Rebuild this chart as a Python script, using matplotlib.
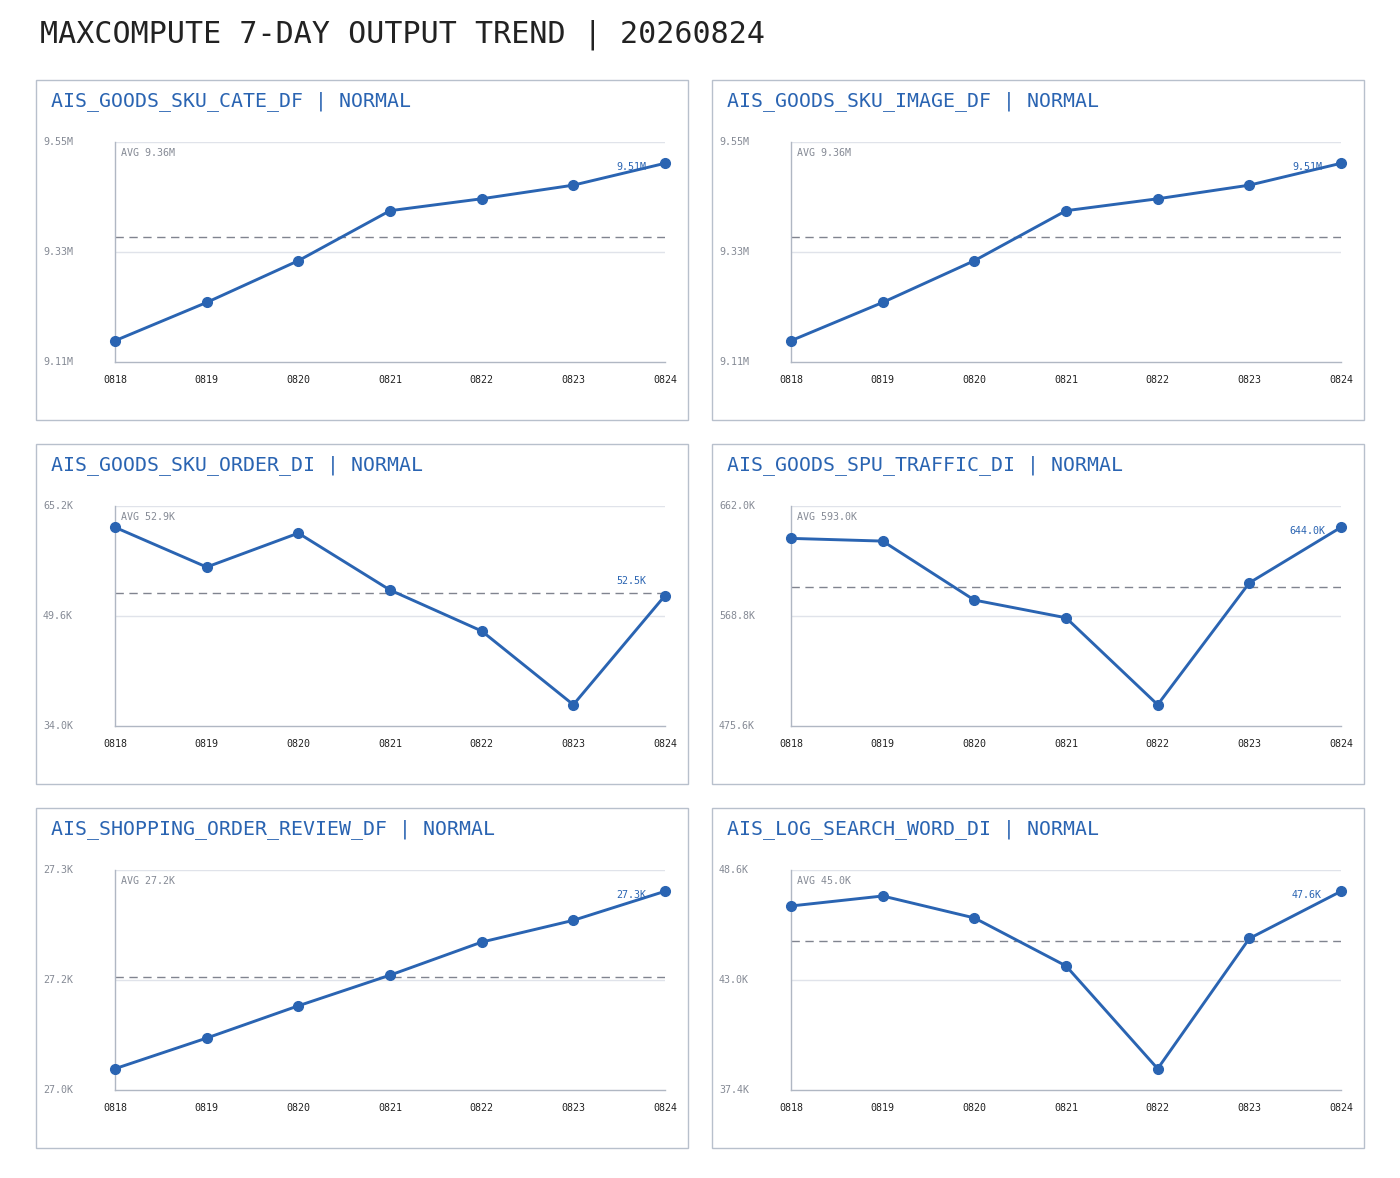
import matplotlib.pyplot as plt
from matplotlib.patches import Rectangle

# data
dates = ['0818', '0819', '0820', '0821', '0822', '0823', '0824']
table_names = ['AIS_GOODS_SKU_CATE_DF', 'AIS_GOODS_SKU_IMAGE_DF',
               'AIS_GOODS_SKU_ORDER_DI', 'AIS_GOODS_SPU_TRAFFIC_DI',
               'AIS_SHOPPING_ORDER_REVIEW_DF', 'AIS_LOG_SEARCH_WORD_DI']
statuses = ['NORMAL'] * 6

sku_cate = [9151000, 9228000, 9312000, 9412600, 9436600, 9464000, 9508000]
sku_image = [9151000, 9228000, 9312000, 9412600, 9436600, 9464000, 9508000]
sku_order = [62200, 56550, 61370, 53290, 47470, 37000, 52500]
spu_traffic = [634600, 632300, 582300, 567300, 493600, 596900, 644000]
order_review = [27060, 27098, 27138, 27176, 27217, 27244, 27280]
search_word = [46810, 47320, 46200, 43750, 38500, 45150, 47560]

series = [sku_cate, sku_image, sku_order, spu_traffic, order_review, search_word]

title = 'MAXCOMPUTE 7-DAY OUTPUT TREND | 20260824'

BLUE = '#2a64b2'
GRAY = '#858a95'
FONT = 'DejaVu Sans Mono'

W, H = 1400, 1178


def fmt(v):
    if abs(v) >= 1e6:
        return f'{v / 1e6:.2f}M'
    if abs(v) >= 1e3:
        return f'{v / 1e3:.1f}K'
    return f'{v:.0f}'


fig = plt.figure(figsize=(W / 100, H / 100), dpi=100)
fig.text(40 / W, 1 - 35 / H, title, fontsize=21.6, family=FONT, color='#222222',
         ha='left', va='center')

box_lefts = [36, 712]
box_tops = [80, 444, 808]

for i, vals in enumerate(series):
    bx = box_lefts[i % 2]
    by = box_tops[i // 2]
    # panel frame
    fig.patches.append(Rectangle((bx / W, 1 - (by + 340) / H), 652 / W, 340 / H,
                                 transform=fig.transFigure, fill=False,
                                 edgecolor='#b8c0cc', linewidth=1))
    fig.text((bx + 15) / W, 1 - (by + 21) / H, f'{table_names[i]} | {statuses[i]}',
             fontsize=14.3, family=FONT, color=BLUE, ha='left', va='center')

    ax = fig.add_axes([(bx + 79) / W, 1 - (by + 282) / H, 550 / W, 220 / H])
    x = list(range(len(dates)))
    vmin, vmax = min(vals), max(vals)
    pad = (vmax - vmin) * 0.12
    lo, hi = vmin - pad, vmax + pad
    mid = (lo + hi) / 2
    avg = sum(vals) / len(vals)

    ax.set_xlim(x[0], x[-1])
    ax.set_ylim(lo, hi)
    for yv in (mid, hi):
        ax.axhline(yv, color='#e0e3ea', linewidth=1, zorder=0)
    ax.axhline(avg, color='#80848f', linewidth=1, dashes=(6, 4), zorder=1)
    ax.plot(x, vals, color=BLUE, linewidth=2.1, marker='o', markersize=7, zorder=3,
            clip_on=False)

    for s in ('top', 'right'):
        ax.spines[s].set_visible(False)
    for s in ('left', 'bottom'):
        ax.spines[s].set_color('#b0b7c3')
        ax.spines[s].set_linewidth(1)

    ax.set_yticks([])
    ax.set_xticks(x)
    ax.set_xticklabels(dates, family=FONT, fontsize=7.2, color='#222222')
    ax.tick_params(axis='x', length=0, pad=9.5)

    for yv in (lo, mid, hi):
        ax.text(-72 / 550, yv, fmt(yv), transform=ax.get_yaxis_transform(),
                fontsize=7.2, family=FONT, color=GRAY, ha='left', va='center')

    ax.text(6 / 550, 1 - 11 / 220, f'AVG {fmt(avg)}', transform=ax.transAxes,
            fontsize=7.2, family=FONT, color=GRAY, ha='left', va='center')

    per_px = (hi - lo) / 220
    ly = min(vals[-1] + 15 * per_px, hi - 25 * per_px)
    ax.annotate(fmt(vals[-1]), xy=(x[-1], ly), xytext=(-34 * 0.72, 0),
                textcoords='offset points', fontsize=7.2, family=FONT,
                color=BLUE, ha='center', va='center')

fig.savefig('out.png', dpi=100, facecolor='white')
